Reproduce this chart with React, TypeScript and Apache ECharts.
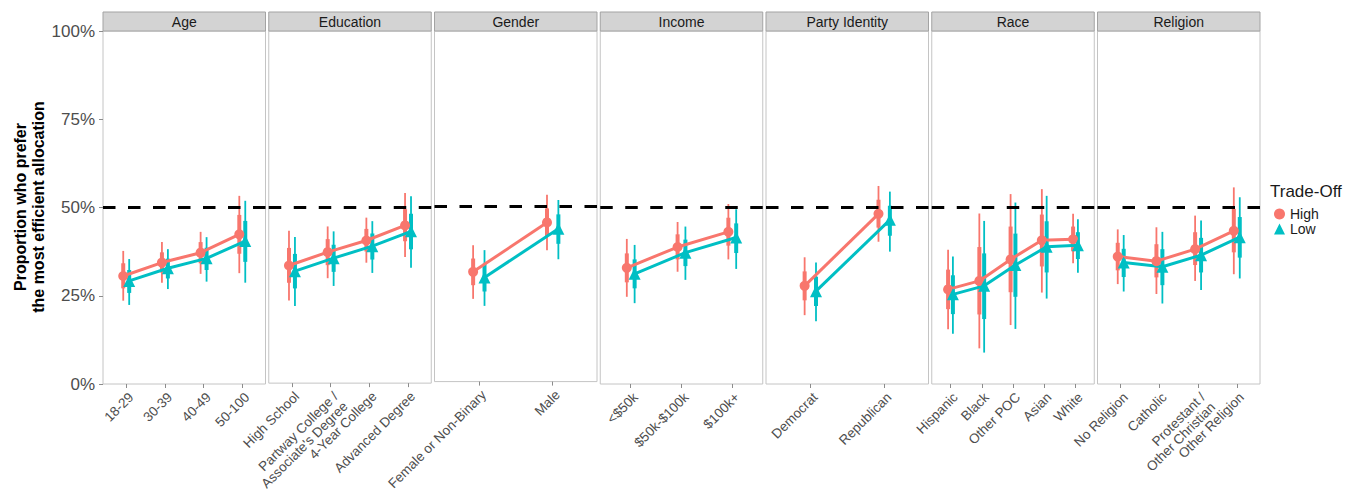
import React, { useEffect, useRef } from "react";
import * as echarts from "echarts";

// ---- categories per facet ----
const facetNames = ["Age", "Education", "Gender", "Income", "Party Identity", "Race", "Religion"];
const ageCats = ["18-29", "30-39", "40-49", "50-100"];
const eduCats = ["High School", "Partway College /\nAssociate's Degree", "4-Year College", "Advanced Degree"];
const genderCats = ["Female or Non-Binary", "Male"];
const incomeCats = ["<$50k", "$50k-$100k", "$100k+"];
const partyCats = ["Democrat", "Republican"];
const raceCats = ["Hispanic", "Black", "Other POC", "Asian", "White"];
const religionCats = ["No Religion", "Catholic", "Protestant /\nOther Christian", "Other Religion"];

// ---- values (percent): [estimate, lo95, hi95, loInner, hiInner] ----
const ageHigh = [[30.6, 23.6, 37.7, 27.1, 34.2], [34.4, 28.7, 40.2, 31.6, 37.3], [37.2, 31.2, 43.1, 34.2, 40.2], [42.4, 31.4, 53.3, 36.9, 47.9]];
const ageLow = [[29.2, 22.4, 35.4, 25.8, 32.3], [32.8, 26.9, 38.2, 29.9, 35.5], [35.6, 29.0, 41.6, 32.3, 38.6], [40.5, 28.7, 51.9, 34.6, 46.2]];
const eduHigh = [[33.4, 23.5, 43.3, 28.5, 38.4], [37.2, 29.8, 44.5, 33.5, 40.9], [40.5, 34.2, 47.0, 37.4, 43.8], [44.8, 35.8, 54.0, 40.3, 49.4]];
const eduLow = [[31.8, 21.9, 41.5, 26.9, 36.7], [35.5, 27.6, 43.1, 31.6, 39.3], [38.9, 31.3, 46.0, 35.1, 42.5], [43.1, 32.8, 53.1, 38.0, 48.1]];
const genderHigh = [[31.3, 23.6, 38.9, 27.5, 35.1], [45.4, 37.5, 53.3, 41.5, 49.4]];
const genderLow = [[29.7, 21.6, 37.5, 25.7, 33.6], [43.6, 34.9, 51.8, 39.3, 47.7]];
const incomeHigh = [[32.9, 24.7, 41.1, 28.8, 37.0], [38.8, 31.8, 45.9, 35.3, 42.4], [43.1, 35.3, 51.0, 39.2, 47.1]];
const incomeLow = [[31.2, 22.9, 39.4, 27.1, 35.3], [37.2, 29.5, 44.6, 33.4, 40.9], [41.5, 32.6, 49.5, 37.1, 45.5]];
const partyHigh = [[27.8, 19.5, 35.9, 23.7, 31.9], [48.2, 40.3, 56.1, 44.3, 52.2]];
const partyLow = [[26.3, 17.8, 34.4, 22.1, 30.4], [46.5, 37.5, 54.5, 42.0, 50.5]];
const raceHigh = [[26.8, 15.5, 38.0, 21.2, 32.4], [29.2, 10.1, 48.3, 19.7, 38.8], [35.3, 16.7, 53.8, 26.0, 44.6], [40.7, 25.9, 55.2, 33.3, 48.0], [41.0, 34.2, 48.2, 37.6, 44.6]];
const raceLow = [[25.4, 14.2, 36.1, 19.8, 30.8], [27.8, 8.9, 46.2, 18.4, 37.0], [33.7, 15.6, 51.4, 24.7, 42.6], [38.9, 24.2, 53.3, 31.6, 46.1], [39.3, 31.5, 46.7, 35.4, 43.0]];
const religionHigh = [[36.1, 28.3, 43.8, 32.2, 40.0], [34.8, 25.5, 44.4, 30.2, 39.6], [38.2, 29.2, 47.7, 33.7, 43.0], [43.4, 31.1, 55.7, 37.3, 49.6]];
const religionLow = [[34.4, 26.2, 42.2, 30.3, 38.3], [33.2, 22.8, 43.1, 28.0, 38.2], [36.5, 26.6, 46.3, 31.6, 41.4], [41.6, 29.9, 52.9, 35.8, 47.3]];

const referenceLine = 0.5;
const groupNames = ["High", "Low"];

// ---- layout / style ----
const FONT = "'Liberation Sans', Arial, Helvetica, sans-serif";
const HIGH_COLOR = "#F8766D";
const LOW_COLOR = "#00BFC4";
const GRID_LEFT0 = 103;
const GRID_STEP = 165.75;
const GRID_W = 162.5;
const GRID_TOP = 31;
const GRID_H = 353;
const STRIP_H = 19;
const DODGE = 0.077;
const PAD = 0.6;

const facets = [
  { cats: ageCats, high: ageHigh, low: ageLow },
  { cats: eduCats, high: eduHigh, low: eduLow },
  { cats: genderCats, high: genderHigh, low: genderLow },
  { cats: incomeCats, high: incomeHigh, low: incomeLow },
  { cats: partyCats, high: partyHigh, low: partyLow },
  { cats: raceCats, high: raceHigh, low: raceLow },
  { cats: religionCats, high: religionHigh, low: religionLow },
];

function errorBarSeries(i: number, rows: number[][], offset: number, color: string) {
  return {
    type: "custom",
    xAxisIndex: i,
    yAxisIndex: i,
    z: 2,
    silent: true,
    encode: { x: 0, y: [1, 2] },
    data: rows.map((r, k) => [k + offset, r[1] / 100, r[2] / 100, r[3] / 100, r[4] / 100]),
    renderItem: (params: any, api: any) => {
      const x = api.value(0);
      const a = api.coord([x, api.value(1)]);
      const b = api.coord([x, api.value(2)]);
      const c = api.coord([x, api.value(3)]);
      const d = api.coord([x, api.value(4)]);
      return {
        type: "group",
        children: [
          { type: "line", shape: { x1: a[0], y1: a[1], x2: b[0], y2: b[1] }, style: { stroke: color, lineWidth: 1.8 } },
          { type: "line", shape: { x1: c[0], y1: c[1], x2: d[0], y2: d[1] }, style: { stroke: color, lineWidth: 4 } },
        ],
      };
    },
  };
}

function lineSeries(i: number, name: string, rows: number[][], offset: number, color: string, symbol: string, size: number, withRef: boolean) {
  const s: any = {
    type: "line",
    name,
    xAxisIndex: i,
    yAxisIndex: i,
    z: 3,
    data: rows.map((r, k) => [k + offset, r[0] / 100]),
    symbol,
    symbolSize: size,
    showSymbol: true,
    itemStyle: { color, borderWidth: 0 },
    lineStyle: { color, width: 3 },
    emphasis: { disabled: true },
  };
  if (withRef) {
    s.markLine = {
      silent: true,
      symbol: "none",
      label: { show: false },
      lineStyle: { color: "#000", width: 3, type: [12.5, 12.5] },
      data: [{ yAxis: referenceLine }],
    };
  }
  return s;
}

export default function App() {
  const ref = useRef<HTMLDivElement>(null);
  useEffect(() => {
    if (!ref.current) return;
    const chart = echarts.init(ref.current, null, { renderer: "svg" });
    const grids = facets.map((_, i) => ({
      left: GRID_LEFT0 + i * GRID_STEP,
      top: GRID_TOP,
      width: GRID_W,
      height: GRID_H,
      show: true,
      borderColor: "#c4c4c4",
      borderWidth: 1,
      backgroundColor: "transparent",
    }));
    const xAxes = facets.map((f, i) => {
      const n = f.cats.length;
      const idx = f.cats.map((_, k) => k);
      return {
        type: "value",
        gridIndex: i,
        min: -PAD,
        max: n - 1 + PAD,
        axisLine: { show: false, onZero: false },
        splitLine: { show: false },
        axisTick: { show: true, length: 4, customValues: idx, lineStyle: { color: "#8c8c8c" } },
        axisLabel: {
          // blank sentinels at both ends so no real label is treated as the min/max label
          customValues: [-PAD, ...idx, n - 1 + PAD],
          formatter: (v: number) => (Math.abs(v - Math.round(v)) < 1e-6 ? f.cats[Math.round(v)] ?? "" : ""),
          hideOverlap: false,
          rotate: 45,
          fontSize: 13.5,
          lineHeight: 14,
          color: "#4d4d4d",
          fontFamily: FONT,
          margin: 6,
          align: "right",
          verticalAlign: "top",
        },
      };
    });
    const yAxes = facets.map((_, i) => ({
      type: "value",
      gridIndex: i,
      min: 0,
      max: 1,
      interval: 0.25,
      axisLine: { show: false, onZero: false },
      splitLine: { show: false },
      axisTick: { show: i === 0, length: 4, lineStyle: { color: "#8c8c8c" } },
      axisLabel: {
        show: i === 0,
        formatter: (v: number) => Math.round(v * 100) + "%",
        showMinLabel: true,
        showMaxLabel: true,
        fontSize: 17,
        color: "#4d4d4d",
        fontFamily: FONT,
        margin: 8,
      },
    }));
    const series: any[] = [];
    facets.forEach((f, i) => {
      series.push(errorBarSeries(i, f.high, -DODGE, HIGH_COLOR));
      series.push(errorBarSeries(i, f.low, DODGE, LOW_COLOR));
      series.push(lineSeries(i, groupNames[0], f.high, -DODGE, HIGH_COLOR, "circle", 10, true));
      series.push(lineSeries(i, groupNames[1], f.low, DODGE, LOW_COLOR, "triangle", 12, false));
    });
    const graphics: any[] = [];
    facetNames.forEach((name, i) => {
      const left = GRID_LEFT0 + i * GRID_STEP;
      graphics.push({
        type: "rect",
        shape: { x: left, y: GRID_TOP - STRIP_H, width: GRID_W, height: STRIP_H },
        style: { fill: "#d3d3d3", stroke: "#a3a3a3", lineWidth: 1 },
        silent: true,
      });
      graphics.push({
        type: "text",
        x: left + GRID_W / 2,
        y: GRID_TOP - STRIP_H / 2,
        style: { text: name, fontSize: 14, fontFamily: FONT, fill: "#1a1a1a", align: "center", verticalAlign: "middle" },
        silent: true,
      });
    });
    graphics.push({
      type: "text",
      x: 29,
      y: 207,
      rotation: Math.PI / 2,
      style: {
        text: "Proportion who prefer\nthe most efficient allocation",
        fontSize: 16,
        fontWeight: "bold",
        lineHeight: 18,
        fontFamily: FONT,
        fill: "#000",
        align: "center",
        verticalAlign: "middle",
      },
      silent: true,
    });
    graphics.push({
      type: "text",
      x: 1270,
      y: 191,
      style: { text: "Trade-Off", fontSize: 17, fontFamily: FONT, fill: "#1a1a1a", align: "left", verticalAlign: "middle" },
      silent: true,
    });
    chart.setOption({
      animation: false,
      textStyle: { fontFamily: FONT },
      grid: grids,
      xAxis: xAxes,
      yAxis: yAxes,
      series,
      legend: {
        data: [
          { name: groupNames[0], icon: "circle" },
          { name: groupNames[1], icon: "triangle" },
        ],
        orient: "vertical",
        left: 1269,
        top: 202,
        itemWidth: 11,
        itemHeight: 11,
        itemGap: 1,
        selectedMode: false,
        itemStyle: { borderWidth: 0 },
        textStyle: { fontSize: 14, color: "#1a1a1a", fontFamily: FONT },
      },
      graphic: graphics,
    });
    return () => chart.dispose();
  }, []);
  return <div ref={ref} style={{ position: "absolute", left: 0, top: 0, width: 1348, height: 493 }} />;
}
